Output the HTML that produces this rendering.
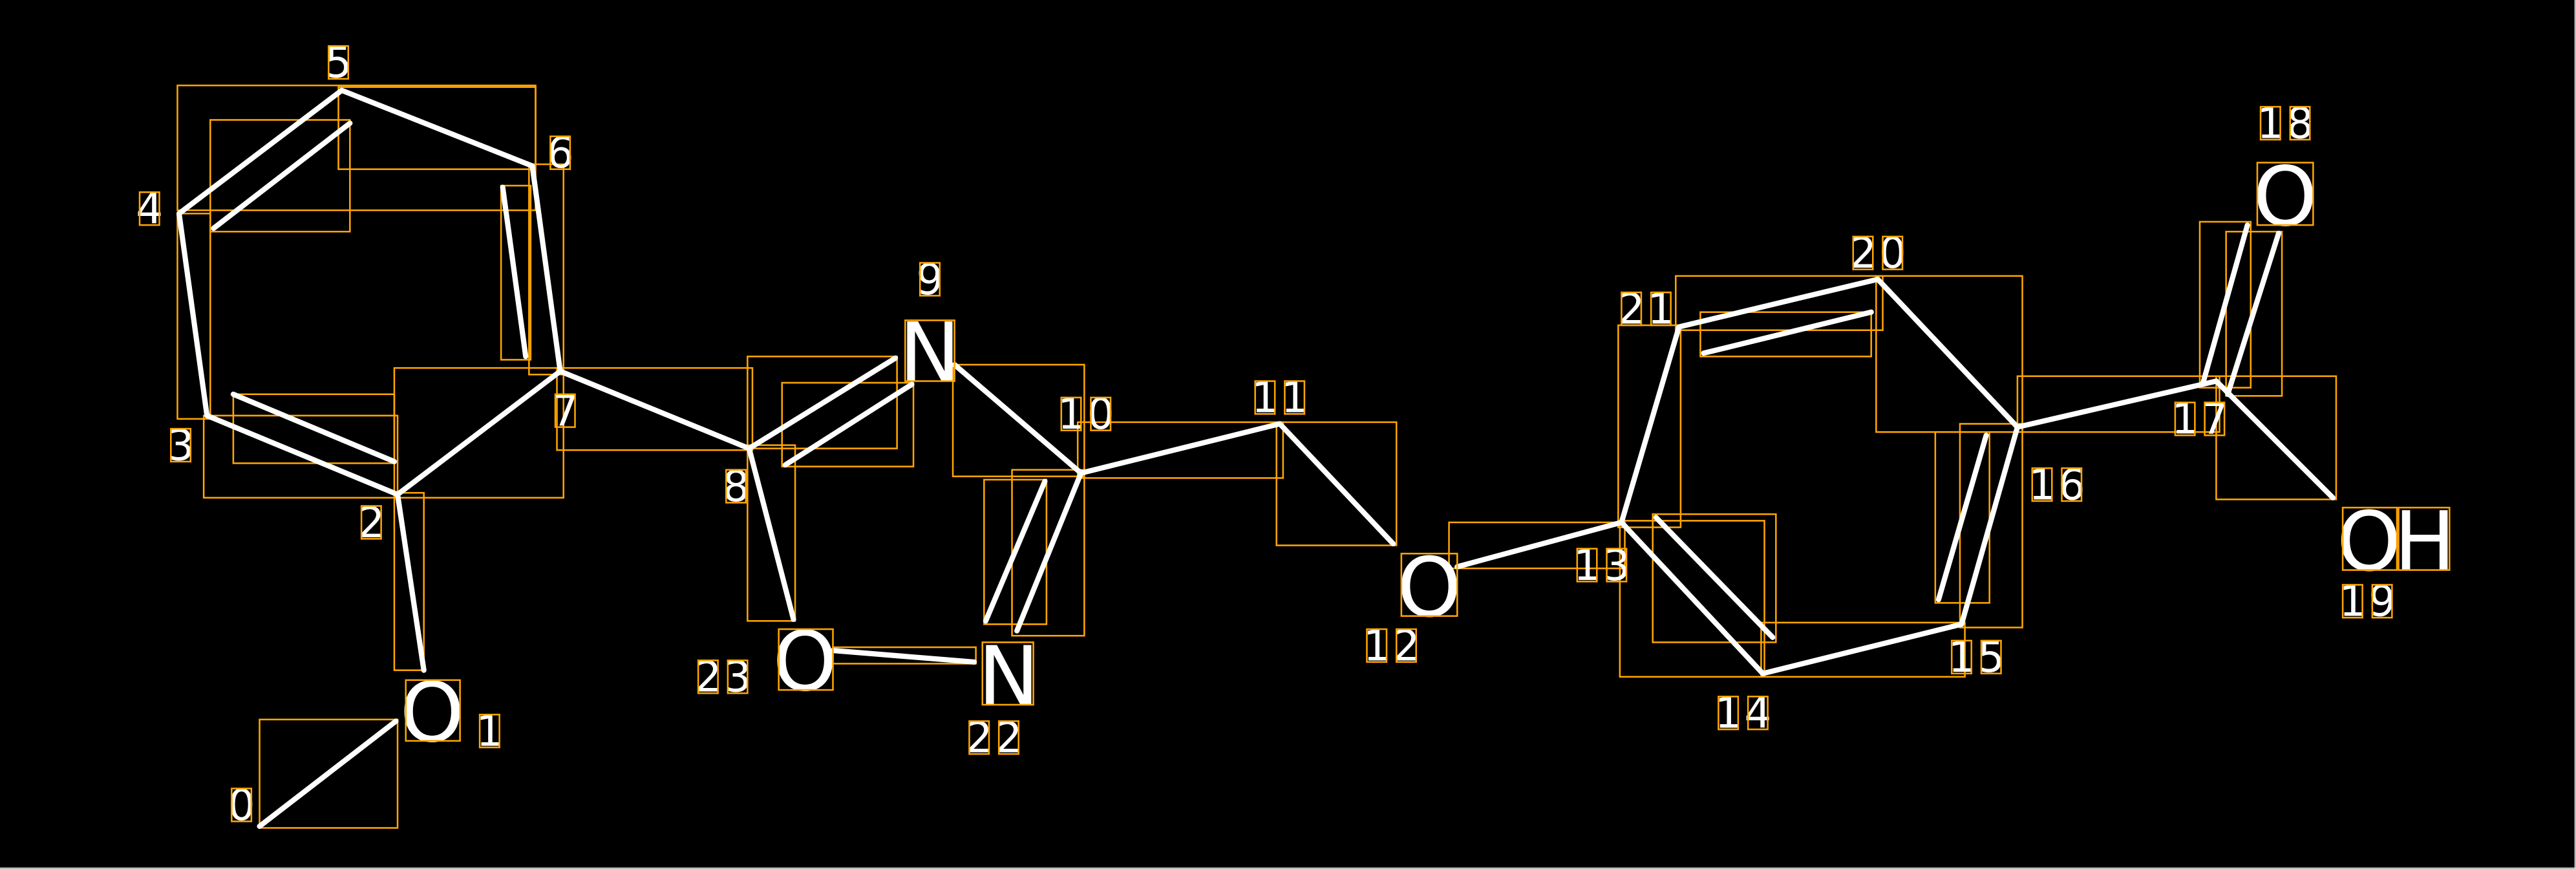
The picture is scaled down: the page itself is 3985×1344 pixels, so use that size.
<!DOCTYPE html>
<html><head><meta charset="utf-8"><style>
html,body{margin:0;padding:0;background:#000;}
svg{display:block;}
text{font-family:"DejaVu Sans","Liberation Sans",sans-serif;fill:#fff;}
</style></head><body>
<svg width="3985" height="1344" viewBox="0 0 1568 529" preserveAspectRatio="none" xmlns="http://www.w3.org/2000/svg">
<rect x="0" y="0" width="1568" height="529" fill="#000"/>
<line x1="1567.5" y1="0" x2="1567.5" y2="529" stroke="#ddd" stroke-width="0.8"/>
<line x1="0" y1="528.5" x2="1568" y2="528.5" stroke="#ddd" stroke-width="0.8"/>
<g fill="none" stroke="#ffa500" stroke-width="1">
<rect x="158" y="438" width="84" height="66"/>
<rect x="240" y="300" width="18" height="108"/>
<rect x="124" y="253" width="118" height="50"/>
<rect x="142" y="240" width="98" height="42"/>
<rect x="108" y="130" width="20" height="125"/>
<rect x="108" y="52" width="218" height="76"/>
<rect x="128" y="73" width="85" height="68"/>
<rect x="206" y="53" width="120" height="50"/>
<rect x="305" y="113" width="18" height="106"/>
<rect x="322" y="100" width="21" height="128"/>
<rect x="240" y="224" width="103" height="79"/>
<rect x="339" y="224" width="119" height="50"/>
<rect x="455" y="217" width="91" height="56"/>
<rect x="476" y="233" width="80" height="51"/>
<rect x="580" y="222" width="80" height="68"/>
<rect x="656" y="257" width="125" height="34"/>
<rect x="777" y="257" width="73" height="75"/>
<rect x="882" y="318" width="107" height="28"/>
<rect x="986" y="317" width="88" height="95"/>
<rect x="1006" y="313" width="75" height="78"/>
<rect x="1072" y="379" width="124" height="33"/>
<rect x="1193" y="258" width="38" height="124"/>
<rect x="1178" y="263" width="33" height="104"/>
<rect x="1142" y="168" width="89" height="95"/>
<rect x="1020" y="168" width="126" height="33"/>
<rect x="1035" y="190" width="104" height="27"/>
<rect x="985" y="198" width="38" height="123"/>
<rect x="1228" y="229" width="123" height="34"/>
<rect x="1339" y="135" width="31" height="101"/>
<rect x="1355" y="141" width="34" height="100"/>
<rect x="1349" y="229" width="73" height="75"/>
<rect x="616" y="286" width="44" height="101"/>
<rect x="599" y="292" width="38" height="88"/>
<rect x="507" y="394" width="87" height="10"/>
<rect x="455" y="271" width="29" height="107"/>
</g>
<g stroke="#fff" stroke-width="3.2" stroke-linecap="round">
<line x1="158" y1="503" x2="241" y2="439"/>
<line x1="258" y1="408" x2="242" y2="301"/>
<line x1="242" y1="301" x2="126" y2="253"/>
<line x1="142" y1="240" x2="240" y2="281"/>
<line x1="126" y1="253" x2="109" y2="130"/>
<line x1="109" y1="130" x2="208" y2="55"/>
<line x1="130" y1="139" x2="213" y2="75"/>
<line x1="208" y1="55" x2="324" y2="101"/>
<line x1="324" y1="101" x2="341" y2="226"/>
<line x1="306" y1="114" x2="320" y2="217"/>
<line x1="341" y1="226" x2="242" y2="301"/>
<line x1="341" y1="226" x2="456" y2="273"/>
<line x1="456" y1="273" x2="545" y2="218"/>
<line x1="478" y1="283" x2="555" y2="234"/>
<line x1="581" y1="222" x2="658" y2="288"/>
<line x1="658" y1="288" x2="779" y2="258"/>
<line x1="779" y1="258" x2="848" y2="331"/>
<line x1="887" y1="345" x2="987" y2="318"/>
<line x1="987" y1="318" x2="1073" y2="410"/>
<line x1="1008" y1="315" x2="1079" y2="388"/>
<line x1="1073" y1="410" x2="1194" y2="380"/>
<line x1="1194" y1="380" x2="1228" y2="260"/>
<line x1="1180" y1="365" x2="1209" y2="265"/>
<line x1="1228" y1="260" x2="1143" y2="170"/>
<line x1="1143" y1="170" x2="1022" y2="199"/>
<line x1="1037" y1="215" x2="1139" y2="190"/>
<line x1="1022" y1="199" x2="987" y2="318"/>
<line x1="1228" y1="260" x2="1349" y2="232"/>
<line x1="1341" y1="233" x2="1368" y2="137"/>
<line x1="1356" y1="240" x2="1387" y2="142"/>
<line x1="1349" y1="232" x2="1420" y2="303"/>
<line x1="658" y1="288" x2="619" y2="384"/>
<line x1="600" y1="378" x2="636" y2="293"/>
<line x1="593" y1="403" x2="507" y2="396"/>
<line x1="483" y1="377" x2="456" y2="273"/>
</g>
<g font-size="50" text-anchor="middle">
<text x="263" y="451">O</text>
<text x="566" y="232">N</text>
<text x="870" y="375">O</text>
<text x="490" y="420">O</text>
<text x="614" y="429">N</text>
<text x="1391" y="137">O</text>
<text x="1442" y="347">O</text>
<text x="1476" y="347">H</text>
</g>
<g fill="none" stroke="#ffa500" stroke-width="1">
<rect x="247" y="414" width="33" height="37"/>
<rect x="551" y="195" width="30" height="37"/>
<rect x="853" y="337" width="34" height="38"/>
<rect x="474" y="383" width="33" height="37"/>
<rect x="598" y="391" width="31" height="38"/>
<rect x="1374" y="99" width="34" height="38"/>
<rect x="1426" y="309" width="33" height="38"/>
<rect x="1460" y="309" width="31" height="38"/>
</g>
<g font-size="26" text-anchor="middle">
<text x="147" y="499">0</text>
<text x="298" y="454">1</text>
<text x="226" y="327">2</text>
<text x="110" y="280">3</text>
<text x="91" y="136">4</text>
<text x="206" y="47">5</text>
<text x="341" y="102">6</text>
<text x="344" y="259">7</text>
<text x="448" y="305">8</text>
<text x="566" y="179">9</text>
<text x="652" y="261">1</text><text x="670" y="261">0</text>
<text x="770" y="251">1</text><text x="788" y="251">1</text>
<text x="838" y="402">1</text><text x="856" y="402">2</text>
<text x="966" y="353">1</text><text x="984" y="353">3</text>
<text x="1052" y="443">1</text><text x="1070" y="443">4</text>
<text x="1194" y="409">1</text><text x="1212" y="409">5</text>
<text x="1243" y="304">1</text><text x="1261" y="304">6</text>
<text x="1330" y="264">1</text><text x="1348" y="264">7</text>
<text x="1382" y="84">1</text><text x="1400" y="84">8</text>
<text x="1432" y="375">1</text><text x="1450" y="375">9</text>
<text x="1134" y="163">2</text><text x="1152" y="163">0</text>
<text x="993" y="197">2</text><text x="1011" y="197">1</text>
<text x="596" y="458">2</text><text x="614" y="458">2</text>
<text x="431" y="421">2</text><text x="449" y="421">3</text>
</g>
<g fill="none" stroke="#ffa500" stroke-width="1">
<rect x="141" y="480" width="12" height="20"/>
<rect x="292" y="435" width="12" height="20"/>
<rect x="220" y="308" width="12" height="20"/>
<rect x="104" y="261" width="12" height="20"/>
<rect x="85" y="117" width="12" height="20"/>
<rect x="200" y="28" width="12" height="20"/>
<rect x="335" y="83" width="12" height="20"/>
<rect x="338" y="240" width="12" height="20"/>
<rect x="442" y="286" width="12" height="20"/>
<rect x="560" y="160" width="12" height="20"/>
<rect x="646" y="242" width="12" height="20"/><rect x="664" y="242" width="12" height="20"/>
<rect x="764" y="232" width="12" height="20"/><rect x="782" y="232" width="12" height="20"/>
<rect x="832" y="383" width="12" height="20"/><rect x="850" y="383" width="12" height="20"/>
<rect x="960" y="334" width="12" height="20"/><rect x="978" y="334" width="12" height="20"/>
<rect x="1046" y="424" width="12" height="20"/><rect x="1064" y="424" width="12" height="20"/>
<rect x="1188" y="390" width="12" height="20"/><rect x="1206" y="390" width="12" height="20"/>
<rect x="1237" y="285" width="12" height="20"/><rect x="1255" y="285" width="12" height="20"/>
<rect x="1324" y="245" width="12" height="20"/><rect x="1342" y="245" width="12" height="20"/>
<rect x="1376" y="65" width="12" height="20"/><rect x="1394" y="65" width="12" height="20"/>
<rect x="1426" y="356" width="12" height="20"/><rect x="1444" y="356" width="12" height="20"/>
<rect x="1128" y="144" width="12" height="20"/><rect x="1146" y="144" width="12" height="20"/>
<rect x="987" y="178" width="12" height="20"/><rect x="1005" y="178" width="12" height="20"/>
<rect x="590" y="439" width="12" height="20"/><rect x="608" y="439" width="12" height="20"/>
<rect x="425" y="402" width="12" height="20"/><rect x="443" y="402" width="12" height="20"/>
</g>
</svg>
</body></html>
